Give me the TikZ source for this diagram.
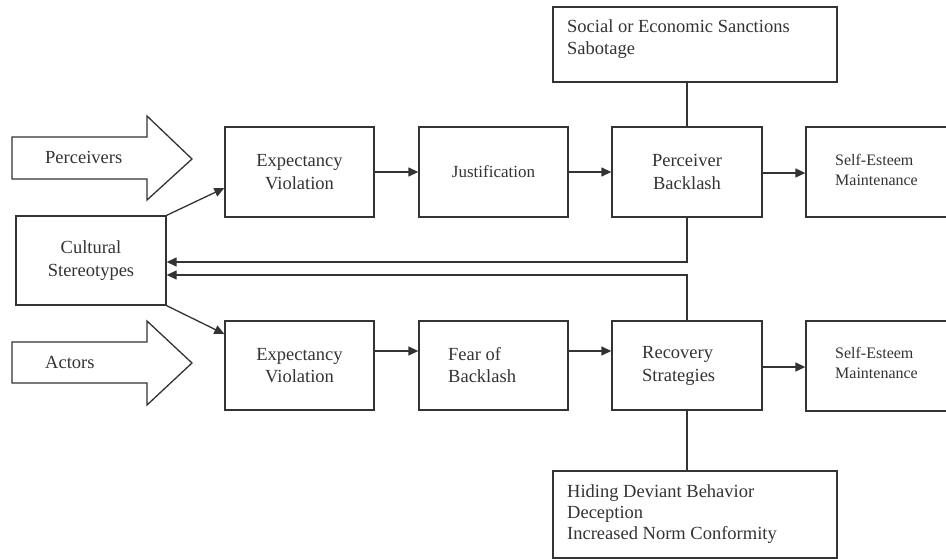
\documentclass[tikz,border=0pt]{standalone}
\usepackage{fontspec}
\setmainfont{Liberation Serif}
\usetikzlibrary{arrows.meta,calc}
\definecolor{ink}{HTML}{333333}
\tikzset{
  box/.style={draw=ink, line width=1.3pt, text=ink, inner sep=0pt, font=\fontsize{18.5}{22.5}\selectfont},
  lbl/.style={text=ink, inner sep=0pt, font=\fontsize{18.5}{22.5}\selectfont},
  arr/.style={draw=ink, line width=1.3pt, -{Triangle[length=10pt,width=9pt]}},
  ln/.style={draw=ink, line width=1.3pt},
  blk/.style={draw=ink, line width=1.3pt, line join=miter}
}
\begin{document}
\begin{tikzpicture}[x=1pt,y=-1pt]
\useasboundingbox (0,0) rectangle (946,559);
\clip (0,0) rectangle (946,559);
% block arrows
\draw[blk] (12,137) -- (147,137) -- (147,116) -- (192,159) -- (147,200) -- (147,179) -- (12,179) -- cycle;
\node[lbl, anchor=base west] (perc) at (45,164) {Perceivers};
\draw[blk] (12,342) -- (147,342) -- (147,321) -- (192,363) -- (147,405) -- (147,383) -- (12,383) -- cycle;
\node[lbl, anchor=base west] (act) at (45,368) {Actors};
% boxes
\node[box, minimum width=150pt, minimum height=89pt, align=center] (cult) at (91,260.5) {Cultural\\Stereotypes};
\node[box, minimum width=149pt, minimum height=90pt, align=center] (ev1) at (299.5,172) {Expectancy\\Violation};
\node[box, minimum width=149pt, minimum height=90pt, align=center, font=\fontsize{17}{21}\selectfont] (just) at (493.5,172) {Justification};
\node[box, minimum width=150pt, minimum height=90pt, align=center] (pb) at (687,172) {Perceiver\\Backlash};
\node[box, minimum width=144pt, minimum height=90pt] (se1) at (878,172) {};
\node[lbl, anchor=west, align=left, font=\fontsize{16}{20}\selectfont] (se1t) at (835,170) {Self-Esteem\\Maintenance};
\node[box, minimum width=284pt, minimum height=75pt] (sanc) at (695,44.5) {};
\node[lbl, anchor=base west, align=left, font=\fontsize{18.5}{22}\selectfont] (sanct) at (567,55) {Social or Economic Sanctions\\Sabotage};
\node[box, minimum width=149pt, minimum height=89pt, align=center] (ev2) at (299.5,365.5) {Expectancy\\Violation};
\node[box, minimum width=149pt, minimum height=89pt] (fear) at (493.5,365.5) {};
\node[lbl, anchor=west, align=left] (feart) at (448,365) {Fear of\\Backlash};
\node[box, minimum width=150pt, minimum height=89pt] (rec) at (687,365.5) {};
\node[lbl, anchor=west, align=left] (rect) at (642,366) {Recovery\\Strategies};
\node[box, minimum width=144pt, minimum height=90pt] (se2) at (878,366) {};
\node[lbl, anchor=west, align=left, font=\fontsize{16}{20}\selectfont] (se2t) at (835,363) {Self-Esteem\\Maintenance};
\node[box, minimum width=284pt, minimum height=87pt] (hid) at (695,514.5) {};
\node[lbl, anchor=base west, align=left, font=\fontsize{18.5}{21}\selectfont] (hidt) at (567,539) {Hiding Deviant Behavior\\Deception\\Increased Norm Conformity};
% connectors
\draw[arr] (cult.north east) -- (ev1.west |- 0,188);
\draw[arr] (cult.south east) -- (ev2.north west |- 0,334);
\draw[arr] (ev1.east) -- (just.west);
\draw[arr] (just.east) -- (pb.west);
\draw[arr] (pb.east |- 0,173) -- (se1.west |- 0,173);
\draw[arr] (ev2.east |- 0,351) -- (fear.west |- 0,351);
\draw[arr] (fear.east |- 0,351) -- (rec.west |- 0,351);
\draw[arr] (rec.east |- 0,367) -- (se2.west |- 0,367);
\draw[ln] (pb.north) -- (pb.north |- sanc.south);
\draw[ln] (rec.south) -- (rec.south |- hid.north);
\draw[arr] (pb.south) |- (cult.east |- 0,262);
\draw[arr] (rec.north) |- (cult.east |- 0,275);
\end{tikzpicture}
\end{document}
